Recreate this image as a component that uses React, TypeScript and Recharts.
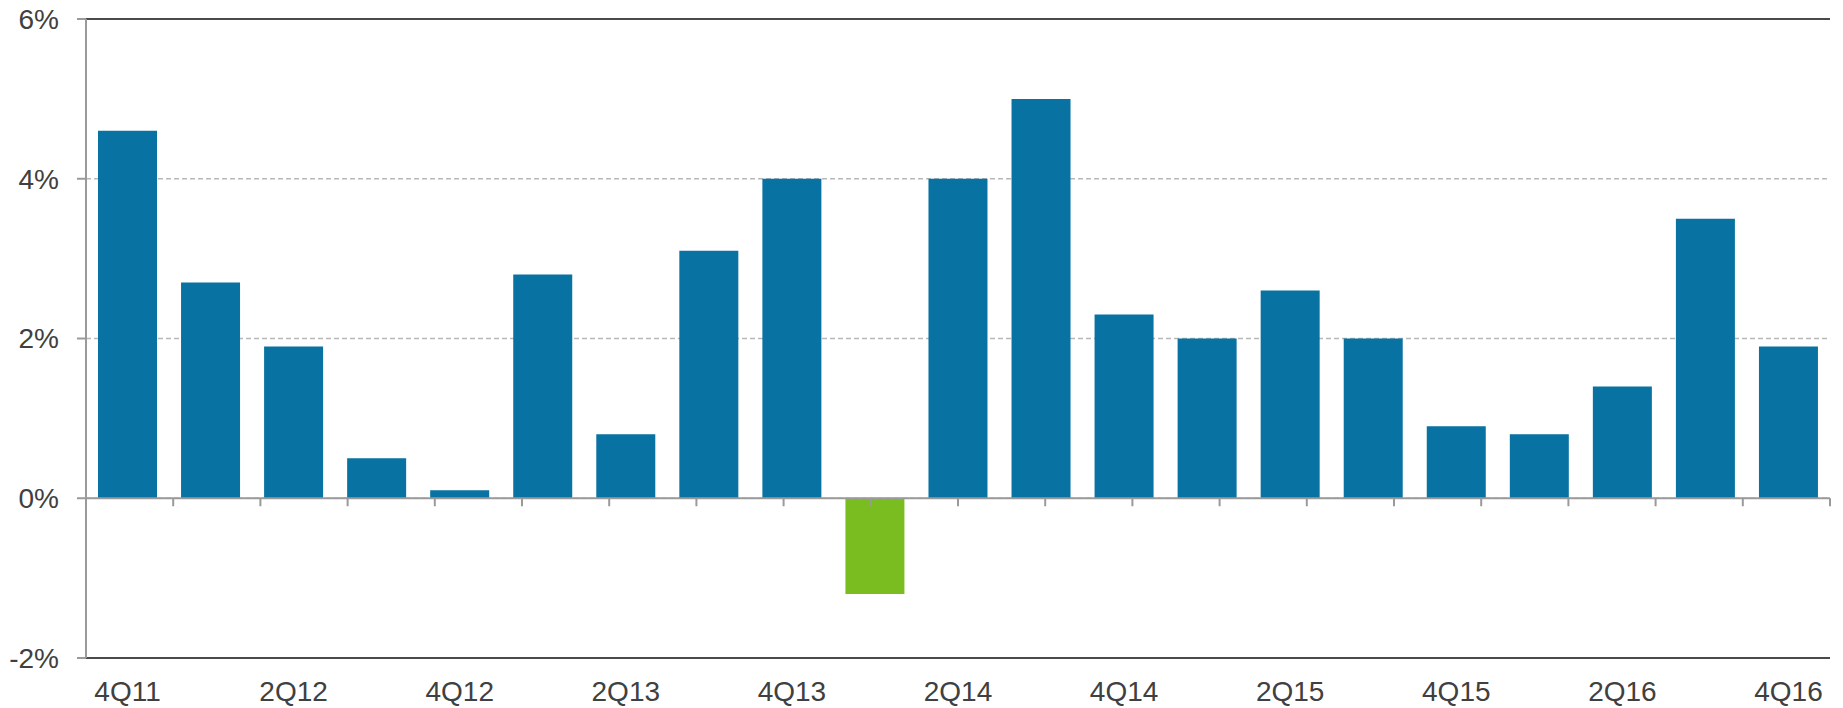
import { BarChart, Bar, Cell, XAxis, YAxis, CartesianGrid, ReferenceLine } from 'recharts';

const quarters = [
  '4Q11', '1Q12', '2Q12', '3Q12', '4Q12', '1Q13', '2Q13', '3Q13', '4Q13', '1Q14', '2Q14',
  '3Q14', '4Q14', '1Q15', '2Q15', '3Q15', '4Q15', '1Q16', '2Q16', '3Q16', '4Q16',
];

const growth = [
  4.6, 2.7, 1.9, 0.5, 0.1, 2.8, 0.8, 3.1, 4.0, -1.2, 4.0,
  5.0, 2.3, 2.0, 2.6, 2.0, 0.9, 0.8, 1.4, 3.5, 1.9,
];

const yTicks = [-2, 0, 2, 4, 6];

const BLUE = '#0872a2';
const GREEN = '#7abd21';
const TEXT = '#404040';
const FRAME = '#4a4a4a';
const AXIS = '#9a9a9a';

const data = quarters.map((q, i) => ({ quarter: q, value: growth[i] }));
// category boundaries, used for the small ticks on the zero line
const boundaries = quarters.map((_, i) => i + 1);

const font = { fontFamily: '"Liberation Sans", Arial, sans-serif', fontSize: 28, fill: TEXT };

export default function App() {
  return (
    <div>
      <style>{'body { margin: 0; }'}</style>
      <BarChart
        width={1843}
        height={708}
        data={data}
        margin={{ top: 19, right: 13, left: 0, bottom: 0 }}
      >
        <CartesianGrid vertical={false} stroke="#b8b8b8" strokeWidth={1.5} strokeDasharray="5 3" />
        <XAxis
          dataKey="quarter"
          height={50}
          interval={1}
          tickSize={0}
          tickMargin={23}
          tick={font}
          axisLine={{ stroke: FRAME, strokeWidth: 2 }}
          tickLine={false}
        />
        <XAxis xAxisId="n" type="number" domain={[0, quarters.length]} hide />
        <YAxis
          domain={[-2, 6]}
          ticks={yTicks}
          width={86}
          tickSize={9}
          tickMargin={18}
          tick={font}
          tickFormatter={(v: number) => `${v}%`}
          axisLine={{ stroke: AXIS, strokeWidth: 2 }}
          tickLine={{ stroke: AXIS, strokeWidth: 2 }}
        />
        <Bar dataKey="value" barSize={59} isAnimationActive={false}>
          {data.map((d, i) => (
            <Cell key={i} fill={d.value < 0 ? GREEN : BLUE} />
          ))}
        </Bar>
        <ReferenceLine y={0} stroke={AXIS} strokeWidth={2} />
        <ReferenceLine y={6} stroke={FRAME} strokeWidth={2} />
        <ReferenceLine xAxisId="n" x={quarters.length} stroke={FRAME} strokeWidth={2} />
        {boundaries.map((b) => (
          <ReferenceLine
            key={b}
            xAxisId="n"
            segment={[{ x: b, y: 0 }, { x: b, y: -0.1 }]}
            stroke={AXIS}
            strokeWidth={2}
          />
        ))}
      </BarChart>
    </div>
  );
}
